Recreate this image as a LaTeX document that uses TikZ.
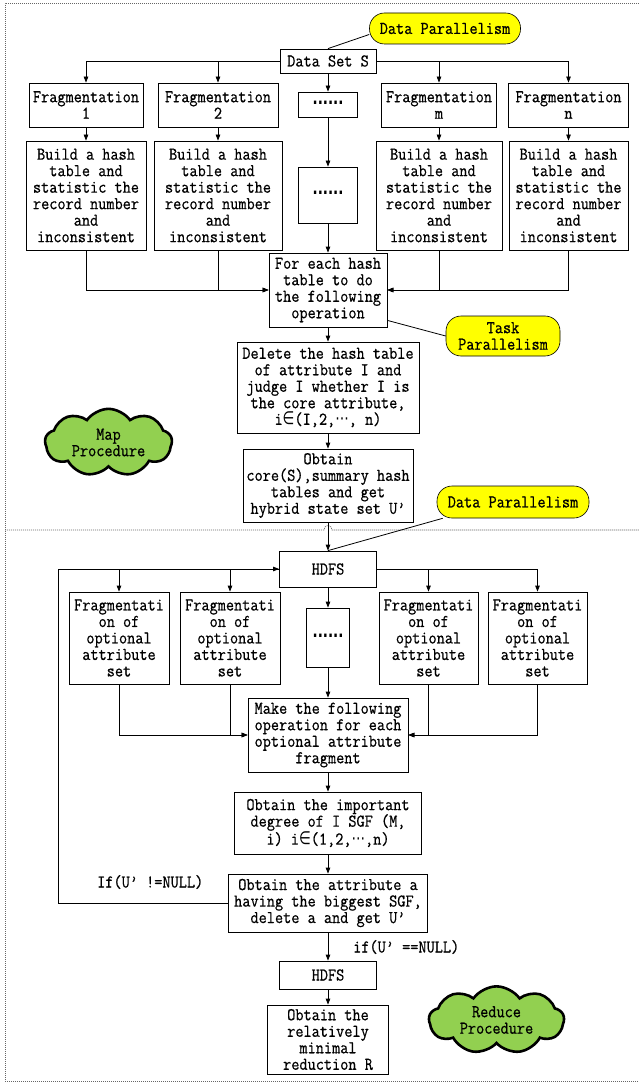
\documentclass[tikz,border=0pt]{standalone}
\usepackage{fontspec}
\setmainfont{Latin Modern Mono}[FakeStretch=0.88,FakeBold=0.6]
\newfontfamily\symfont{DejaVu Sans}[FakeStretch=0.75]
\usetikzlibrary{arrows.meta,shapes.symbols}
\definecolor{calloutyellow}{HTML}{FFFF00}
\definecolor{cloudgreen}{HTML}{92D050}
\newcommand{\flowfont}{\fontsize{18}{16.5}\selectfont}
\newcommand{\elem}{{\symfont ∈}}
\newcommand{\mdots}{{\symfont ⋯}}
\newcommand{\boxdots}{\raisebox{4pt}{\symfont\bfseries ......}}
\tikzset{
  procbox/.style 2 args={draw, line width=0.8pt, minimum width=#1, minimum height=#2,
    inner sep=1pt, align=center, font=\flowfont},
  callout/.style 2 args={draw, line width=0.6pt, fill=calloutyellow, rounded corners=15pt,
    minimum width=#1, minimum height=#2, inner sep=1pt, align=center, font=\flowfont},
  procloud/.style 2 args={cloud, cloud puffs=9, cloud puff arc=110, aspect=2,
    draw, line width=2.6pt, fill=cloudgreen, minimum width=#1, minimum height=#2,
    inner sep=0pt, align=center, font=\flowfont},
  lbl/.style={inner sep=0pt, font=\flowfont},
  arr/.style={line width=0.8pt, -{Triangle[length=6pt,width=4.5pt]}},
  link/.style={line width=0.8pt},
  frame/.style={line width=0.6pt, black!60, dash pattern=on 1.2pt off 0.8pt}
}
\begin{document}
\begin{tikzpicture}[x=1pt,y=-1pt]
\useasboundingbox (0,0) rectangle (638,1083);

%Frame and separator
\draw[frame] (645,3) -- (5,3) -- (5,1081) -- (645,1081);
\draw[frame] (5,530) -- (324,530) .. controls (324,524) and (332,524) .. (332,530) -- (645,530);

%Map part
\node[procbox={96}{24}] (dset) at (328,61) {Data Set S};
\node[callout={151}{31}] (dpar1) at (445,28.5) {Data Parallelism};

\node[procbox={114}{44}] (frag1) at (86,105) {Fragmentation\\1};
\node[procbox={120}{44}] (frag2) at (218,105) {Fragmentation\\2};
\node[procbox={59}{25}] (fdots) at (328,104.5) {\boxdots};
\node[procbox={115}{44}] (fragm) at (439,105) {Fragmentation\\m};
\node[procbox={120}{44}] (fragn) at (568.5,105) {Fragmentation\\n};

\node[procbox={120}{109}] (build1) at (86,195.5) {Build a hash\\table and\\statistic the\\record number\\and\\inconsistent};
\node[procbox={128}{109}] (build2) at (218,195.5) {Build a hash\\table and\\statistic the\\record number\\and\\inconsistent};
\node[procbox={59}{56}] (bdots) at (328,195) {\boxdots};
\node[procbox={126}{109}] (buildm) at (439,195.5) {Build a hash\\table and\\statistic the\\record number\\and\\inconsistent};
\node[procbox={119}{109}] (buildn) at (568.5,195.5) {Build a hash\\table and\\statistic the\\record number\\and\\inconsistent};

\node[procbox={118}{74}] (foreach) at (328,290) {For each hash\\table to do\\the following\\operation};
\node[callout={114}{40}] (tpar) at (503,336) {Task\\Parallelism};
\node[procbox={182}{91}] (delete) at (328,387.5) {Delete the hash table\\of attribute I and\\judge I whether I is\\the core attribute,\\i\elem(I,2,\mdots, n)};
\node[procbox={170}{73}] (core) at (328,485.5) {Obtain\\core(S),summary hash\\tables and get\\hybrid state set U’};
\node[procloud={127}{65}] (mapc) at (108.5,442.5) {Map\\Procedure};

%Reduce part
\node[procbox={97}{36}] (hdfs1) at (328,569) {HDFS};
\node[callout={152}{32}] (dpar2) at (513,502) {Data Parallelism};

\node[procbox={100}{92}] (opt1) at (119,638) {Fragmentati\\on of\\optional\\attribute\\set};
\node[procbox={100}{92}] (opt2) at (230,638) {Fragmentati\\on of\\optional\\attribute\\set};
\node[procbox={43}{59}] (odots) at (328,637.5) {\boxdots};
\node[procbox={99}{92}] (opt3) at (428.5,638) {Fragmentati\\on of\\optional\\attribute\\set};
\node[procbox={99}{92}] (opt4) at (537.5,638) {Fragmentati\\on of\\optional\\attribute\\set};

\node[procbox={160}{74}] (make) at (328,735) {Make the following\\operation for each\\optional attribute\\fragment};
\node[procbox={187}{62}] (degree) at (328,823) {Obtain the important\\degree of I SGF (M,\\i) i\elem(1,2,\mdots,n)};
\node[procbox={199}{58}] (attr) at (328,903) {Obtain the attribute a\\having the biggest SGF,\\delete a and get U’};
\node[procbox={97}{28}] (hdfs2) at (328,975) {HDFS};
\node[procbox={121}{69}] (result) at (328,1039.5) {Obtain the\\relatively\\minimal\\reduction R};
\node[procloud={135}{60}] (redc) at (496.5,1020) {Reduce\\Procedure};

\node[lbl, anchor=west] (ifnot) at (97,882) {If(U’ !=NULL)};
\node[lbl, anchor=west] (ifnull) at (353,947) {if(U’ ==NULL)};

%Connectors, map part
\draw[link] (dset.north) -- ([yshift=-6pt]dpar1.west);
\draw[arr] (dset.west) -| (frag1);
\draw[arr] (dset.west) -| (frag2);
\draw[arr] (dset.east) -| (fragm);
\draw[arr] (dset.east) -| (fragn);
\draw[arr] (dset) -- (fdots);
\foreach \i in {1,2,m,n}
  \draw[arr] (frag\i) -- (build\i);
\draw[arr] (fdots) -- (bdots);
\draw[arr] (build1) |- (foreach.west);
\draw[arr] (build2) |- (foreach.west);
\draw[arr] (buildm) |- (foreach.east);
\draw[arr] (buildn) |- (foreach.east);
\draw[arr] (bdots) -- (foreach);
\draw[link] ([yshift=7pt]foreach.south east) -- (tpar.west);
\draw[arr] (foreach) -- (delete);
\draw[arr] (delete) -- (core);
\draw[arr] (core) -- (hdfs1);

%Connectors, reduce part
\draw[link] ([xshift=6pt]dpar2.south west) -- (hdfs1.north);
\draw[arr] (hdfs1.west) -| (opt1);
\draw[arr] (hdfs1.west) -| (opt2);
\draw[arr] (hdfs1.east) -| (opt3);
\draw[arr] (hdfs1.east) -| (opt4);
\draw[arr] (hdfs1) -- (odots);
\draw[arr] (opt1) |- (make.west);
\draw[arr] (opt2) |- (make.west);
\draw[arr] (opt3) |- (make.east);
\draw[arr] (opt4) |- (make.east);
\draw[arr] (odots) -- (make);
\draw[arr] (make) -- (degree);
\draw[arr] (degree) -- (attr);
\draw[arr] (attr.west) -- ++(-170,0) |- (hdfs1.west);
\draw[arr] (attr) -- (hdfs2);
\draw[arr] (hdfs2) -- (result);
\end{tikzpicture}
\end{document}
